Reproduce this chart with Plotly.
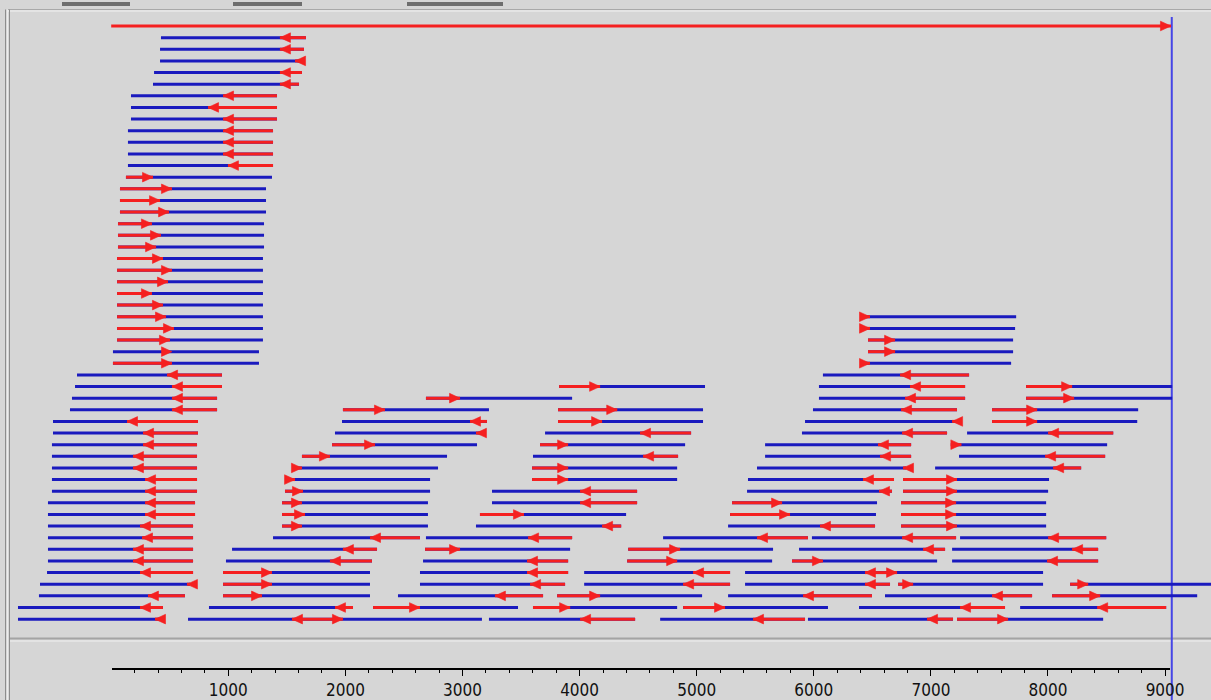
import plotly.graph_objects as go

# ---------------------------------------------------------------------------
# Read layout: one entry per read.
#   ROW    - lane index (0 = reference on top)
#   START  - leftmost base of the read
#   END    - rightmost base of the read
#   JUNC   - position of the direction arrow (end of the red part)
#   STRAND - "+": red from START to JUNC, arrow points right
#            "-": red from JUNC to END, arrow points left
#            ">": no red part, arrow points right at JUNC
# ---------------------------------------------------------------------------
ROW = [
    0,
    1, 2, 3, 4, 5, 6, 7, 8, 9, 10, 11, 12,
    13, 14, 15, 16, 17, 18, 19, 20, 21, 22, 23, 24,
    25, 25, 26, 26, 27, 27, 28, 28, 29, 29,
    30, 30,
    31, 31, 31, 31,
    32, 32, 32, 32,
    33, 33, 33, 33, 33,
    34, 34, 34, 34, 34,
    35, 35, 35, 35, 35,
    36, 36, 36, 36, 36,
    37, 37, 37, 37, 37,
    38, 38, 38, 38, 38,
    39, 39, 39, 39, 39,
    40, 40, 40, 40, 40,
    41, 41, 41, 41, 41,
    42, 42, 42, 42, 42,
    43, 43, 43, 43, 43,
    44, 44, 44, 44, 44, 44,
    45, 45, 45, 45, 45, 45,
    46, 46, 46, 46, 46, 46,
    47, 47, 47, 47, 47, 47,
    48, 48, 48, 48, 48, 48, 48,
    49, 49, 49, 49, 49, 49, 49,
    50, 50, 50, 50, 50, 50, 50,
    51, 51, 51, 51, 51, 51, 51,
]

START = [
    0,
    425, 417, 417, 366, 357, 169, 169, 169, 143, 143, 143, 143,
    126, 75, 75, 75, 58, 58, 58, 50, 50, 50, 50, 50,
    50, 6412, 50, 6412, 50, 6463, 15, 6463, 15, 6412,
    -292, 6078,
    -309, 3825, 6044, 7813,
    -335, 2688, 6044, 7813,
    -352, 1979, 3816, 5993, 7522,
    -497, 1971, 3816, 5925, 7522,
    -497, 1911, 3705, 5899, 7309,
    -506, 1886, 3662, 5584, 7170,
    -506, 1629, 3602, 5584, 7240,
    -506, 1553, 3594, 5515, 7036,
    -506, 1484, 3594, 5438, 6762,
    -506, 1484, 3252, 5430, 6762,
    -540, 1459, 3252, 5302, 6745,
    -540, 1459, 3149, 5285, 6745,
    -540, 1459, 3115, 5268, 6745,
    -540, 1382, 2688, 4713, 5984, 7249,
    -540, 1032, 2680, 4415, 5874, 7181,
    -540, 980, 2663, 4406, 5814, 7181,
    -548, 955, 2637, 4039, 5413, 6651,
    -608, 955, 2637, 4039, 5413, 6720, 8189,
    -617, 955, 2449, 3808, 5268, 6608, 8035,
    -796, 835, 2236, 3602, 4884, 6386, 7762,
    -796, 656, 1894, 3226, 4688, 5950, 7223,
]

END = [
    9050,
    1663, 1646, 1638, 1629, 1604, 1416, 1416, 1416, 1382, 1382, 1382, 1382,
    1373, 1322, 1322, 1322, 1305, 1305, 1305, 1296, 1296, 1296, 1296, 1296,
    1296, 7728, 1296, 7719, 1296, 7702, 1262, 7702, 1262, 7685,
    946, 7326,
    946, 5071, 7292, 9060,
    904, 3936, 7292, 9060,
    904, 3226, 5054, 7223, 8770,
    741, 3209, 5054, 7215, 8762,
    741, 3158, 4952, 7138, 8557,
    733, 3124, 4901, 6831, 8505,
    733, 2868, 4841, 6831, 8488,
    733, 2791, 4833, 6790, 8283,
    733, 2723, 4833, 6685, 8009,
    733, 2723, 4491, 6668, 8001,
    716, 2705, 4491, 6540, 7984,
    716, 2705, 4397, 6531, 7984,
    699, 2705, 4355, 6523, 7984,
    699, 2637, 3936, 5950, 7215, 8497,
    699, 2270, 3919, 5652, 7121, 8428,
    699, 2227, 3902, 5644, 7053, 8428,
    699, 2210, 3902, 5285, 6634, 7958,
    673, 2210, 3876, 5285, 6651, 7958, 9500,
    630, 2210, 3688, 5046, 6497, 7864, 9274,
    442, 2065, 3474, 4833, 6121, 7633, 9009,
    442, 1894, 3166, 4474, 5925, 7189, 8471,
]

JUNC = [
    9050,
    1441, 1441, 1570, 1441, 1441, 955, 827, 955, 955, 955, 955, 997,
    357, 519, 417, 494, 348, 425, 383, 442, 519, 485, 348, 442,
    468, 6480, 536, 6480, 502, 6694, 519, 6694, 519, 6480,
    477, 6737,
    519, 4175, 6822, 8206,
    519, 2979, 6779, 8223,
    519, 2338, 4321, 6745, 7907,
    135, 3064, 4192, 7181, 7907,
    272, 3115, 4516, 6754, 8001,
    272, 2253, 3902, 6548, 7260,
    186, 1868, 4542, 6566, 7975,
    186, 1629, 3902, 6762, 8044,
    289, 1570, 3902, 6420, 7223,
    289, 1638, 4004, 6557, 7223,
    289, 1629, 4004, 5729, 7215,
    289, 1655, 3525, 5797, 7215,
    246, 1629, 4192, 6053, 7223,
    263, 2210, 3560, 5515, 6754, 8001,
    186, 1979, 2979, 4858, 6933, 8206,
    186, 1868, 3551, 4833, 6078, 7992,
    246, 1373, 3551, 4969, 6437, 6711,
    647, 1373, 3577, 4884, 6437, 6848, 8343,
    314, 1288, 3277, 4175, 5908, 7522, 8445,
    246, 1911, 2637, 3919, 5242, 7249, 8420,
    374, 1544, 1979, 4004, 5481, 6967, 7659,
]

STRAND = [
    "+",
    "-", "-", "-", "-", "-", "-", "-", "-", "-", "-", "-", "-",
    "+", "+", "+", "+", "+", "+", "+", "+", "+", "+", "+", "+",
    "+", "+", "+", "+", "+", "+", ">", "+", "+", "+",
    "-", "-",
    "-", "+", "-", "+",
    "-", "+", "-", "+",
    "-", "+", "+", "-", "+",
    "-", "-", "+", "-", "+",
    "-", "-", "-", "-", "-",
    "-", "+", "+", "-", "+",
    "-", "+", "-", "-", "-",
    "-", "+", "+", "-", "-",
    "-", "+", "+", "-", "+",
    "-", "+", "-", "-", "+",
    "-", "+", "-", "+", "+",
    "-", "+", "+", "+", "+",
    "-", "+", "-", "-", "+",
    "-", "-", "-", "-", "-", "-",
    "-", "-", "+", "+", "-", "-",
    "-", "-", "-", "+", "+", "-",
    "-", "+", "-", "-", "-", "+",
    "-", "+", "-", "-", "-", "+", "+",
    "-", "+", "-", "+", "-", "-", "+",
    "-", "-", "+", "+", "+", "-", "-",
    "-", "-", "+", "-", "-", "-", "+",
]

# ruler labels and the contig end marker
TICK_VALUES = [1000, 2000, 3000, 4000, 5000, 6000, 7000, 8000, 9000]
TICK_LABELS = ["1000", "2000", "3000", "4000", "5000", "6000", "7000", "8000", "9000"]
MINOR_STEP = 200
RULER_END = 9040
CONTIG_END = 9057

# ---------------------------------------------------------------------------
# geometry of the canvas
# ---------------------------------------------------------------------------
W, H = 1211, 700
X0_PX = 111.2        # pixel column of base 0
PX_PER_BP = 0.1171   # horizontal scale
ROW0_PX = 26.0       # pixel line of lane 0
ROW_PX = 11.63       # lane pitch

BG = "#d6d6d6"
BLUE = "#1a1abe"
RED = "#f52020"
CURSOR = "#4646e6"


def px_x(bp):
    return X0_PX + PX_PER_BP * bp


x_range = [(0 - X0_PX) / PX_PER_BP, (W - X0_PX) / PX_PER_BP]
y_range = [(H - ROW0_PX) / ROW_PX, (0 - ROW0_PX) / ROW_PX]

head_len = 10.5 / PX_PER_BP    # arrow head length in bases
head_half = 4.8 / ROW_PX       # arrow head half height in lanes

blue_x, blue_y = [], []
red_x, red_y = [], []
head_x, head_y = [], []

for r, s, e, j, st in zip(ROW, START, END, JUNC, STRAND):
    if r > 0:
        blue_x += [s, e, None]
        blue_y += [r, r, None]
    if st == "+":
        red_x += [s, j, None]
        red_y += [r, r, None]
    elif st == "-":
        red_x += [j, e, None]
        red_y += [r, r, None]
    back = j - head_len if st in "+>" else j + head_len
    head_x += [j, back, back, j, None]
    head_y += [r, r - head_half, r + head_half, r, None]

fig = go.Figure()
fig.add_trace(go.Scatter(x=blue_x, y=blue_y, mode="lines",
                         line=dict(color=BLUE, width=3), hoverinfo="skip",
                         showlegend=False))
fig.add_trace(go.Scatter(x=red_x, y=red_y, mode="lines",
                         line=dict(color=RED, width=3), hoverinfo="skip",
                         showlegend=False))
fig.add_trace(go.Scatter(x=head_x, y=head_y, mode="lines", fill="toself",
                         fillcolor=RED, line=dict(color=RED, width=0.6),
                         hoverinfo="skip", showlegend=False))
# invisible point so the ruler axis gets drawn
fig.add_trace(go.Scatter(x=[TICK_VALUES[0]], y=[0.5], xaxis="x2", yaxis="y2",
                         mode="markers", marker=dict(opacity=0),
                         hoverinfo="skip", showlegend=False))


def pxp(x):
    return x / W


def pyp(y):
    return 1 - y / H


shapes = []
# window chrome: tab strips, frame lines, panel separator
for x0, x1 in [(62, 130), (233, 302), (407, 503)]:
    shapes.append(dict(type="rect", xref="paper", yref="paper",
                       x0=pxp(x0), x1=pxp(x1), y0=pyp(6), y1=pyp(2),
                       fillcolor="#6e6e6e", line=dict(width=0), layer="below"))
shapes.append(dict(type="line", xref="paper", yref="paper",
                   x0=pxp(8), x1=1, y0=pyp(9.5), y1=pyp(9.5),
                   line=dict(color="#a9a9a9", width=1), layer="below"))
shapes.append(dict(type="line", xref="paper", yref="paper",
                   x0=pxp(8), x1=1, y0=pyp(11), y1=pyp(11),
                   line=dict(color="#f2f2f2", width=1), layer="below"))
for xx, col in [(5.5, "#8c8c8c"), (7.5, "#ececec"), (9.5, "#8c8c8c")]:
    shapes.append(dict(type="line", xref="paper", yref="paper",
                       x0=pxp(xx), x1=pxp(xx), y0=0, y1=pyp(9.5),
                       line=dict(color=col, width=1), layer="below"))
shapes.append(dict(type="line", xref="paper", yref="paper",
                   x0=pxp(10), x1=1, y0=pyp(638.5), y1=pyp(638.5),
                   line=dict(color="#a4a4a4", width=2), layer="below"))
shapes.append(dict(type="line", xref="paper", yref="paper",
                   x0=pxp(10), x1=1, y0=pyp(641), y1=pyp(641),
                   line=dict(color="#f0f0f0", width=1), layer="below"))
# contig end cursor
shapes.append(dict(type="line", xref="x", yref="paper",
                   x0=CONTIG_END, x1=CONTIG_END, y0=0, y1=pyp(17),
                   line=dict(color=CURSOR, width=2), layer="below"))

ruler_y = (H - 668) / H

fig.update_layout(
    template="none",
    width=W, height=H,
    margin=dict(l=0, r=0, t=0, b=0, pad=0),
    paper_bgcolor=BG, plot_bgcolor=BG,
    showlegend=False,
    shapes=shapes,
    xaxis=dict(range=x_range, domain=[0, 1], visible=False, fixedrange=True,
               automargin=False),
    yaxis=dict(range=y_range, domain=[0, 1], visible=False, fixedrange=True,
               automargin=False),
    xaxis2=dict(
        anchor="y2",
        domain=[pxp(px_x(4)), pxp(px_x(RULER_END))],
        range=[4, RULER_END],
        showline=True, linecolor="#000000", linewidth=2,
        showgrid=False, zeroline=False,
        tickmode="array", tickvals=TICK_VALUES, ticktext=TICK_LABELS,
        ticks="outside", ticklen=6, tickwidth=1, tickcolor="#000000",
        minor=dict(dtick=MINOR_STEP, tick0=0, ticks="outside", ticklen=3,
                   tickwidth=1, tickcolor="#000000", showgrid=False),
        tickfont=dict(family="Liberation Sans Narrow, Arial Narrow, DejaVu Sans Condensed, sans-serif",
                      size=17, color="#111111"),
        automargin=False, fixedrange=True,
    ),
    yaxis2=dict(anchor="x2", domain=[ruler_y, ruler_y + 0.01], range=[0, 1],
                visible=False, fixedrange=True, automargin=False),
)

fig.write_html("out.html")
